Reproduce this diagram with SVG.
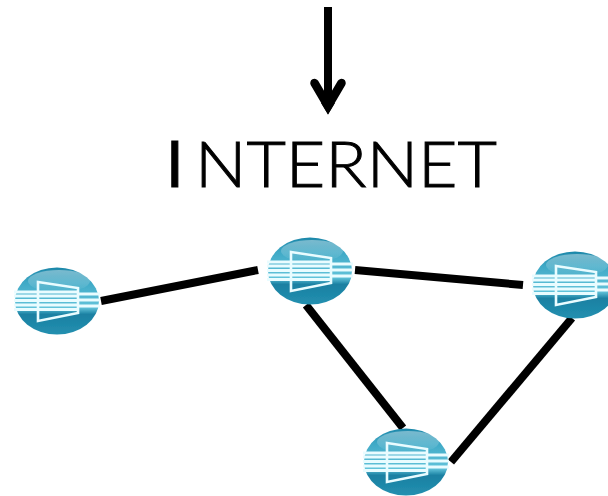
<svg xmlns="http://www.w3.org/2000/svg" width="608" height="496" viewBox="0 0 608 496">
<style>
.link{stroke:#000;stroke-width:8;fill:none}
.w{stroke:#e9fcff;stroke-width:2.8;fill:none}
.t{font-family:Lato,"Liberation Sans",sans-serif;font-size:63px;fill:#000}
</style>
<defs>
<linearGradient id="body" x1="0" y1="0" x2="0" y2="1">
<stop offset="0" stop-color="#1c87a9"/>
<stop offset="0.22" stop-color="#3fa9c6"/>
<stop offset="0.6" stop-color="#62c3da"/>
<stop offset="0.7" stop-color="#1a80a2"/>
<stop offset="1" stop-color="#2390b0"/>
</linearGradient>
<linearGradient id="gloss" x1="0" y1="0" x2="0" y2="1">
<stop offset="0" stop-color="#fff" stop-opacity=".4"/>
<stop offset="1" stop-color="#fff" stop-opacity="0"/>
</linearGradient>
<filter id="soft" x="-10%" y="-10%" width="120%" height="120%"><feGaussianBlur stdDeviation="0.45"/></filter>
<g id="router" filter="url(#soft)">
<ellipse cx="0" cy="0" rx="42" ry="33.5" fill="url(#body)"/>
<ellipse cx="2" cy="-20" rx="31" ry="11" fill="url(#gloss)"/>
<path class="w" d="M-43-9H21M-43-5H21M-43-.5H21M-43 4H21M-43 8.500H21M21-7H43M21-1H43M21 5H43"/>
<path d="M-19-19L21-13V12L-19 20Z" fill="none" stroke="#e9fcff" stroke-width="2.6"/>
</g>
</defs>
<g id="connectors">
<line class="link" x1="101" y1="301" x2="258" y2="270"/>
<line class="link" x1="355" y1="270" x2="523" y2="285"/>
<line class="link" x1="306" y1="305" x2="403" y2="428"/>
<line class="link" x1="572" y1="318" x2="451" y2="462"/>
<path d="M328 7V100" stroke="#000" stroke-width="8" fill="none"/>
<path d="M314.500 83L328 106L341.500 83" stroke="#000" stroke-width="8.500" stroke-linecap="round" fill="none"/>
<path d="M321 103H335L328 114.500Z" fill="#000"/>
</g>
<g id="node1"><use href="#router" x="57" y="301"/></g>
<g id="node2"><use href="#router" x="310" y="271"/></g>
<g id="node3"><use href="#router" x="575" y="285"/></g>
<g id="node4"><use href="#router" x="406" y="462"/></g>
<g id="label">
<text class="t" x="166" y="187" font-weight="400" stroke="#000" stroke-width="1">I</text>
<text class="t" x="195" y="187" font-weight="300" stroke="#000" stroke-width=".9" textLength="302" lengthAdjust="spacingAndGlyphs">NTERNET</text>
</g>
</svg>
